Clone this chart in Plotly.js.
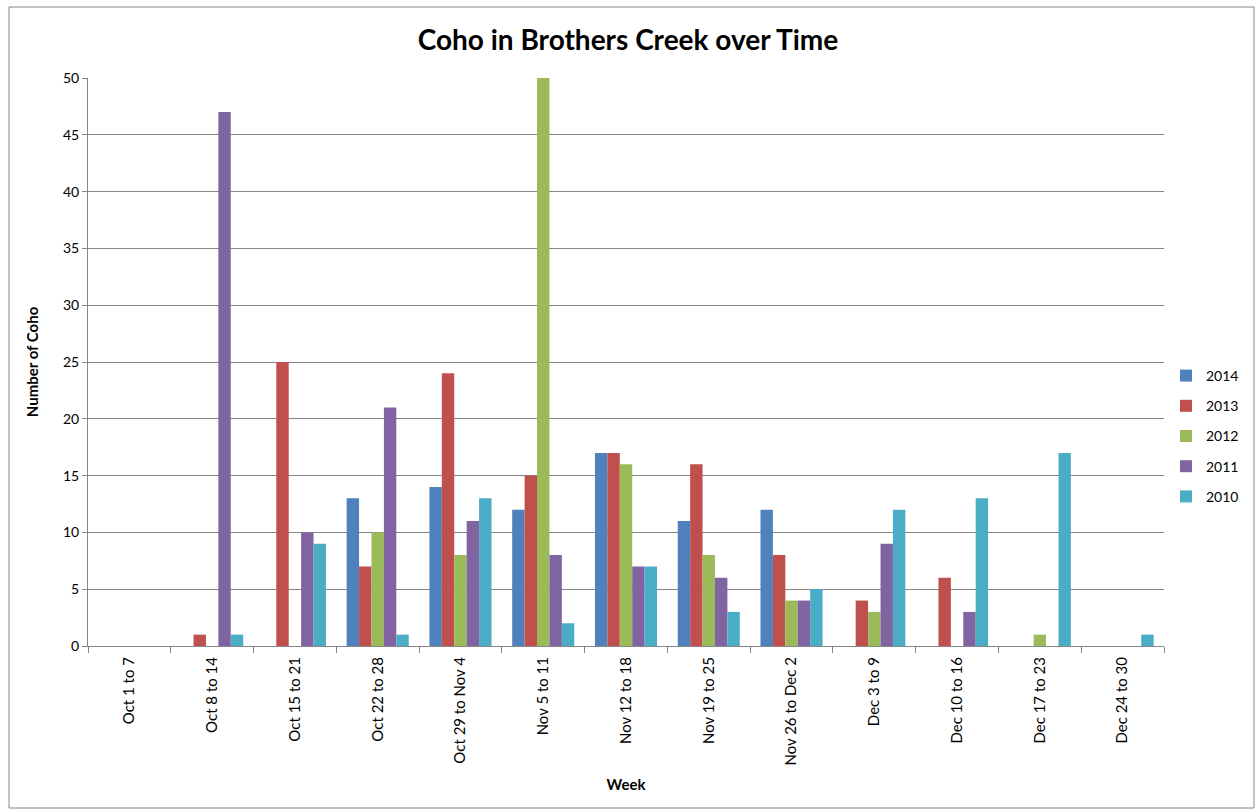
<!DOCTYPE html>
<html>
<head>
<meta charset="utf-8">
<script src="https://cdn.plot.ly/plotly-3.0.1.min.js"></script>
<style>
html,body{margin:0;padding:0;background:#fff;}
#chart{width:1256px;height:810px;}
</style>
</head>
<body>
<div id="chart"></div>
<script>
const weeks = ["Oct 1 to 7","Oct 8 to 14","Oct 15 to 21","Oct 22 to 28","Oct 29 to Nov 4","Nov 5 to 11","Nov 12 to 18","Nov 19 to 25","Nov 26 to Dec 2","Dec 3 to 9","Dec 10 to 16","Dec 17 to 23","Dec 24 to 30"];
const y2014 = [0,0,0,13,14,12,17,11,12,0,0,0,0];
const y2013 = [0,1,25,7,24,15,17,16,8,4,6,0,0];
const y2012 = [0,0,0,10,8,50,16,8,4,3,0,1,0];
const y2011 = [0,47,10,21,11,8,7,6,4,9,3,0,0];
const y2010 = [0,1,9,1,13,2,7,3,5,12,13,17,1];
const seriesNames = ["2014","2013","2012","2011","2010"];
const seriesColors = ["#4F81BD","#C0504D","#9BBB59","#8064A2","#4BACC6"];
const seriesData = [y2014,y2013,y2012,y2011,y2010];

const traces = seriesData.map((d,i)=>({
  type:'bar', x:weeks, y:d, name:seriesNames[i], legendgroup:seriesNames[i],
  marker:{color:seriesColors[i], line:{width:0}}
}));

const W=1256, H=810, L=88, R=92, T=78, B=164;
const pw=W-L-R, ph=H-T-B;
const px=v=>(v-L)/pw, py=v=>(H-B-v)/ph;

const layout = {
  width:W, height:H,
  margin:{l:L,r:R,t:T,b:B,pad:0,autoexpand:false},
  paper_bgcolor:'#fff', plot_bgcolor:'#fff',
  font:{family:'Lato, "Open Sans", sans-serif', size:14, color:'#000'},
  title:{text:'<b>Coho in Brothers Creek over Time</b>', font:{size:28, color:'#000'}, x:0.5, xanchor:'center', y:1-40/H, yanchor:'middle'},
  barmode:'group', bargap:0.25, bargroupgap:0,
  xaxis:{
    type:'category', tickangle:-90, ticks:'outside', tickson:'boundaries', ticklen:6, tickcolor:'#868686',
    showline:true, linecolor:'#868686', linewidth:1, showgrid:false,
    tickfont:{size:15}, ticklabelstandoff:4,
    title:{text:'<b>Week</b>', font:{size:15}, standoff:14}
  },
  yaxis:{
    range:[0,50], dtick:5, ticks:'outside', ticklen:5, tickcolor:'#868686',
    showline:true, linecolor:'#868686', linewidth:1,
    showgrid:true, gridcolor:'#868686', gridwidth:1, zeroline:false,
    tickfont:{size:14},
    title:{text:'<b>Number of Coho</b>', font:{size:15}, standoff:20}
  },
  legend:{x:px(1166), xanchor:'left', y:py(436), yanchor:'middle', font:{size:14}, traceorder:'grouped', tracegroupgap:9, itemwidth:30, bgcolor:'rgba(0,0,0,0)'},
  shapes:[{type:'rect', xref:'paper', yref:'paper', x0:px(9), x1:px(1254), y0:py(808), y1:py(7), line:{color:'#868686', width:1}, layer:'below'}]
};

Plotly.newPlot('chart', traces, layout, {displayModeBar:false, staticPlot:true});
</script>
</body>
</html>
